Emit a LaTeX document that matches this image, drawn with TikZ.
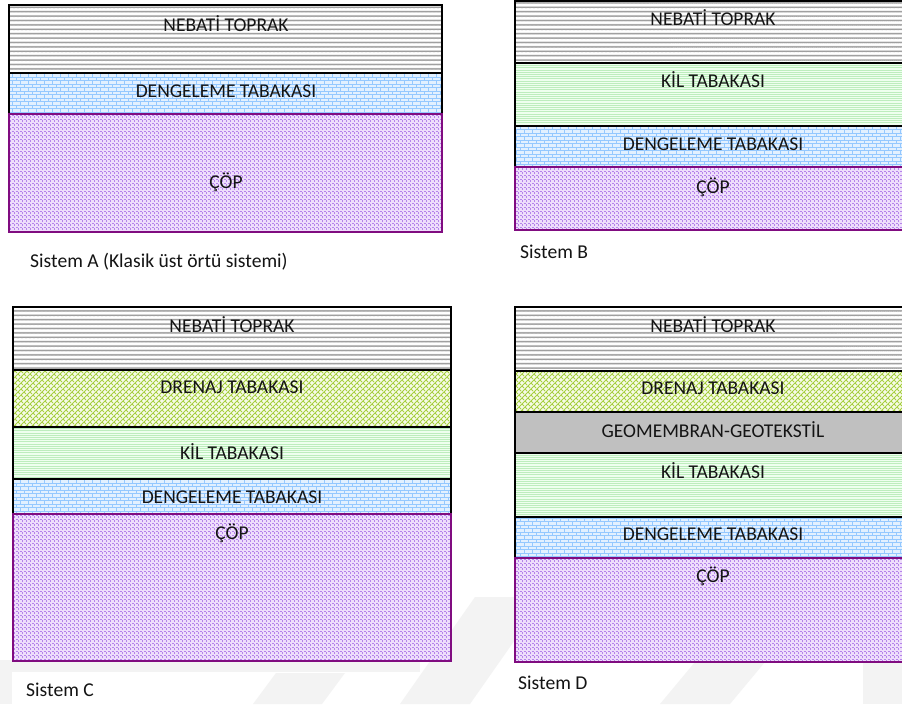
\documentclass[tikz,border=0pt]{standalone}
\usepackage{fontspec}
\setmainfont{Carlito}
\usetikzlibrary{patterns}

\definecolor{zgray}{HTML}{8C8C8C}
\definecolor{brickbg}{HTML}{E2F0FF}
\definecolor{brickln}{HTML}{94C8FF}
\definecolor{copbg}{HTML}{EEDDFB}
\definecolor{copln}{HTML}{B584EA}
\definecolor{copedge}{HTML}{800C80}
\definecolor{kilbg}{HTML}{EEFFEE}
\definecolor{killn}{HTML}{BDEDBD}
\definecolor{drenbg}{HTML}{F7FBE8}
\definecolor{drenln}{HTML}{A6CF40}
\definecolor{geogray}{HTML}{C0C0C0}
\definecolor{txtcol}{HTML}{141414}
\definecolor{wmark}{HTML}{F3F3F3}

\pgfdeclarepatternformonly{pnebati}{\pgfqpoint{-1pt}{-1pt}}{\pgfqpoint{5pt}{5.4pt}}{\pgfqpoint{4pt}{4.4pt}}{%
  \pgfsetlinewidth{0.6pt}%
  \pgfpathmoveto{\pgfqpoint{0pt}{0.8pt}}%
  \pgfpathlineto{\pgfqpoint{1pt}{2.2pt}}%
  \pgfpathlineto{\pgfqpoint{2pt}{0.8pt}}%
  \pgfpathlineto{\pgfqpoint{3pt}{2.2pt}}%
  \pgfpathlineto{\pgfqpoint{4pt}{0.8pt}}%
  \pgfusepath{stroke}}

\pgfdeclarepatternformonly{pbrick}{\pgfqpoint{-1pt}{-1pt}}{\pgfqpoint{9pt}{8pt}}{\pgfqpoint{8pt}{7pt}}{%
  \pgfsetlinewidth{0.8pt}%
  \pgfpathmoveto{\pgfqpoint{0pt}{0.5pt}}\pgfpathlineto{\pgfqpoint{8pt}{0.5pt}}%
  \pgfpathmoveto{\pgfqpoint{0pt}{4pt}}\pgfpathlineto{\pgfqpoint{8pt}{4pt}}%
  \pgfpathmoveto{\pgfqpoint{0.5pt}{0.5pt}}\pgfpathlineto{\pgfqpoint{0.5pt}{4pt}}%
  \pgfpathmoveto{\pgfqpoint{4.5pt}{4pt}}\pgfpathlineto{\pgfqpoint{4.5pt}{7.5pt}}%
  \pgfusepath{stroke}}

\pgfdeclarepatternformonly{pcop}{\pgfqpoint{-1pt}{-1pt}}{\pgfqpoint{5pt}{5pt}}{\pgfqpoint{4pt}{4pt}}{%
  \pgfsetlinewidth{0.8pt}%
  \pgfpathmoveto{\pgfqpoint{0pt}{0.5pt}}\pgfpathlineto{\pgfqpoint{1.8pt}{0.5pt}}%
  \pgfpathmoveto{\pgfqpoint{2.6pt}{2pt}}\pgfpathlineto{\pgfqpoint{2.6pt}{3.8pt}}%
  \pgfusepath{stroke}}

\pgfdeclarepatternformonly{pkil}{\pgfqpoint{-1pt}{-1pt}}{\pgfqpoint{5pt}{3pt}}{\pgfqpoint{4pt}{2.2pt}}{%
  \pgfsetlinewidth{0.7pt}%
  \pgfpathmoveto{\pgfqpoint{0pt}{0.5pt}}\pgfpathlineto{\pgfqpoint{4pt}{0.5pt}}%
  \pgfusepath{stroke}}

\pgfdeclarepatternformonly{pdren}{\pgfqpoint{-1pt}{-1pt}}{\pgfqpoint{7pt}{7pt}}{\pgfqpoint{6pt}{6pt}}{%
  \pgfsetlinewidth{0.9pt}%
  \pgfpathmoveto{\pgfqpoint{0pt}{0pt}}\pgfpathlineto{\pgfqpoint{6pt}{6pt}}%
  \pgfpathmoveto{\pgfqpoint{0pt}{6pt}}\pgfpathlineto{\pgfqpoint{2pt}{4pt}}%
  \pgfpathmoveto{\pgfqpoint{3pt}{3pt}}\pgfpathlineto{\pgfqpoint{5pt}{1pt}}%
  \pgfusepath{stroke}}

\tikzset{
  nebatiL/.style={preaction={fill=white}, preaction={pattern=pnebati, pattern color=zgray}, draw=black, line width=1.5pt},
  dengL/.style={preaction={fill=brickbg}, preaction={pattern=pbrick, pattern color=brickln}, draw=black, line width=1.5pt},
  copL/.style={preaction={fill=copbg}, preaction={pattern=pcop, pattern color=copln}, draw=copedge, line width=1.5pt},
  kilL/.style={preaction={fill=kilbg}, preaction={pattern=pkil, pattern color=killn}, draw=black, line width=1.5pt},
  drenL/.style={preaction={fill=drenbg}, preaction={pattern=pdren, pattern color=drenln}, draw=black, line width=1.5pt},
  geoL/.style={fill=geogray, draw=black, line width=1.5pt},
  txt/.style={anchor=base, inner sep=0pt, text=txtcol, font=\fontsize{19.5}{22}\selectfont},
  captxt/.style={anchor=base west, inner sep=0pt, text=txtcol, font=\fontsize{19.6}{22}\selectfont},
  wm/.style={fill=wmark, draw=none}
}

\begin{document}
\begin{tikzpicture}[x=1pt, y=-1pt]
\useasboundingbox (0,0) rectangle (902,704);
\clip (0,0) rectangle (902,704);
\fill[white] (0,0) rectangle (902,704);

% faint watermark bands
\fill[wm] (0,660) -- (12,660) -- (12,704) -- (0,704) -- cycle;
\fill[wm] (12,662) rectangle (420,672);
\fill[wm] (253,704) -- (322,704) -- (345,673) -- (276,673) -- cycle;
\fill[wm] (400,704) -- (470,704) -- (545,597) -- (475,597) -- cycle;
\fill[wm] (660,704) -- (730,704) -- (765,662) -- (695,662) -- cycle;
\fill[wm] (863,662) rectangle (902,704);

% ---------- Sistem A ----------
\path[nebatiL] (9,5) rectangle (442,73);
\path[dengL] (9,73) rectangle (442,114);
\path[copL] (9,114) rectangle (442,232);
\node[txt] (a1) at (226,31) {NEBATİ TOPRAK};
\node[txt] (a2) at (226,97) {DENGELEME TABAKASI};
\node[txt] (a3) at (226,188) {ÇÖP};
\node[captxt] (la) at (30,267) {Sistem A (Klasik üst örtü sistemi)};

% ---------- Sistem B ----------
\path[nebatiL] (515,0.8) rectangle (911,63);
\path[kilL] (515,63) rectangle (911,126);
\path[dengL] (515,126) rectangle (911,167);
\path[copL] (515,167) rectangle (911,230);
\node[txt] (b1) at (713,25) {NEBATİ TOPRAK};
\node[txt] (b2) at (713,87) {KİL TABAKASI};
\node[txt] (b3) at (713,150) {DENGELEME TABAKASI};
\node[txt] (b4) at (713,193) {ÇÖP};
\node[captxt] (lb) at (520,258) {Sistem B};

% ---------- Sistem C ----------
\path[nebatiL] (13,307) rectangle (451,370);
\path[drenL] (13,370) rectangle (451,427);
\path[kilL] (13,427) rectangle (451,479);
\path[dengL] (13,479) rectangle (451,514);
\path[copL] (13,514) rectangle (451,661);
\node[txt] (c1) at (232,332) {NEBATİ TOPRAK};
\node[txt] (c2) at (232,393) {DRENAJ TABAKASI};
\node[txt] (c3) at (232,459) {KİL TABAKASI};
\node[txt] (c4) at (232,503) {DENGELEME TABAKASI};
\node[txt] (c5) at (232,539) {ÇÖP};
\node[captxt] (lc) at (26,696) {Sistem C};

% ---------- Sistem D ----------
\path[nebatiL] (515,307) rectangle (911,371);
\path[drenL] (515,371) rectangle (911,412);
\path[geoL] (515,412) rectangle (911,453);
\path[kilL] (515,453) rectangle (911,517);
\path[dengL] (515,517) rectangle (911,558);
\path[copL] (515,558) rectangle (911,662);
\node[txt] (d1) at (713,332) {NEBATİ TOPRAK};
\node[txt] (d2) at (713,394) {DRENAJ TABAKASI};
\node[txt] (d3) at (713,437) {GEOMEMBRAN-GEOTEKSTİL};
\node[txt] (d4) at (713,478) {KİL TABAKASI};
\node[txt] (d5) at (713,540) {DENGELEME TABAKASI};
\node[txt] (d6) at (713,582) {ÇÖP};
\node[captxt] (ld) at (518,689) {Sistem D};
\end{tikzpicture}
\end{document}
